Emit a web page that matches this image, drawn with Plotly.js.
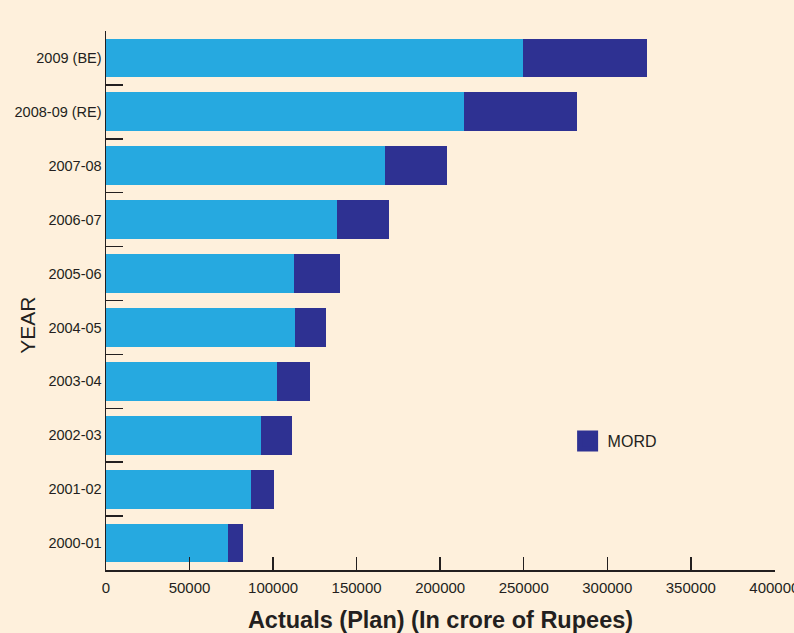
<!DOCTYPE html>
<html>
<head>
<meta charset="utf-8">
<script src="https://cdn.plot.ly/plotly-3.0.1.min.js"></script>
<style>html,body{margin:0;padding:0;background:#FEF0DC;}#chart{width:794px;height:633px;}</style>
</head>
<body>
<div id="chart"></div>
<script>
// Years, top to bottom as in the chart
const years = ["2009 (BE)", "2008-09 (RE)", "2007-08", "2006-07", "2005-06", "2004-05", "2003-04", "2002-03", "2001-02", "2000-01"];
// Other (light blue) portion, in crore of Rupees
const otherValues = [249600, 214400, 166800, 138200, 112600, 113200, 102500, 92900, 87000, 73300];
// MORD portion, in crore of Rupees
const mordValues = [74400, 67300, 37500, 31000, 27400, 18500, 19700, 18500, 13700, 8900];
const xTicks = [0, 50000, 100000, 150000, 200000, 250000, 300000, 350000, 400000];

const MORD_COLOR = '#2E3192';
const traces = [
  {type: 'bar', orientation: 'h', y: years, x: otherValues, name: 'Others',
   marker: {color: '#26A9E0'}, showlegend: false},
  {type: 'bar', orientation: 'h', y: years, x: mordValues, name: 'MORD',
   marker: {color: MORD_COLOR}, showlegend: false, legendgroup: 'mord'},
  // legend-only entry with a larger square swatch
  {type: 'scatter', mode: 'markers', x: [null], y: [null], name: 'MORD', legendgroup: 'mord',
   marker: {symbol: 'square', size: 16, color: MORD_COLOR, line: {color: MORD_COLOR, width: 5}},
   showlegend: true, hoverinfo: 'skip'}
];

const layout = {
  width: 794, height: 633,
  paper_bgcolor: '#FEF0DC', plot_bgcolor: '#FEF0DC',
  font: {family: "'Liberation Sans', Arial, sans-serif", color: '#231F20', size: 13},
  margin: {l: 106, r: 19, t: 31, b: 63},
  barmode: 'stack', bargap: 0.28,
  showlegend: true,
  legend: {x: 0.690, y: 0.239, xanchor: 'left', yanchor: 'middle', bgcolor: 'rgba(0,0,0,0)',
           font: {size: 16, color: '#231F20'}, itemsizing: 'trace'},
  xaxis: {
    range: [0, 400400], tickvals: xTicks, ticktext: xTicks.map(String),
    showgrid: false, zeroline: false, showline: true, linecolor: '#231F20', linewidth: 1.5,
    ticks: 'inside', ticklen: 13, tickwidth: 1.5, tickcolor: '#231F20',
    tickfont: {size: 15}, ticklabelstandoff: 3, automargin: false, ticklabeloverflow: 'allow',
    title: {text: '<b>Actuals (Plan) (In crore of Rupees)</b>', font: {size: 23.5}, standoff: 18}
  },
  yaxis: {
    type: 'category', categoryorder: 'array', categoryarray: years, autorange: 'reversed',
    showgrid: false, zeroline: false, showline: true, linecolor: '#231F20', linewidth: 1.5,
    ticks: 'inside', tickson: 'boundaries', ticklen: 17, tickwidth: 1.5, tickcolor: '#231F20',
    tickfont: {size: 14.5}, automargin: false, layer: 'below traces'
  },
  annotations: [
    {text: 'YEAR', xref: 'paper', yref: 'paper', x: -0.1166, y: 0.455, textangle: -90,
     showarrow: false, font: {size: 21, color: '#231F20'}, xanchor: 'center', yanchor: 'middle'}
  ]
};

Plotly.newPlot('chart', traces, layout, {displayModeBar: false, staticPlot: true});
</script>
</body>
</html>
